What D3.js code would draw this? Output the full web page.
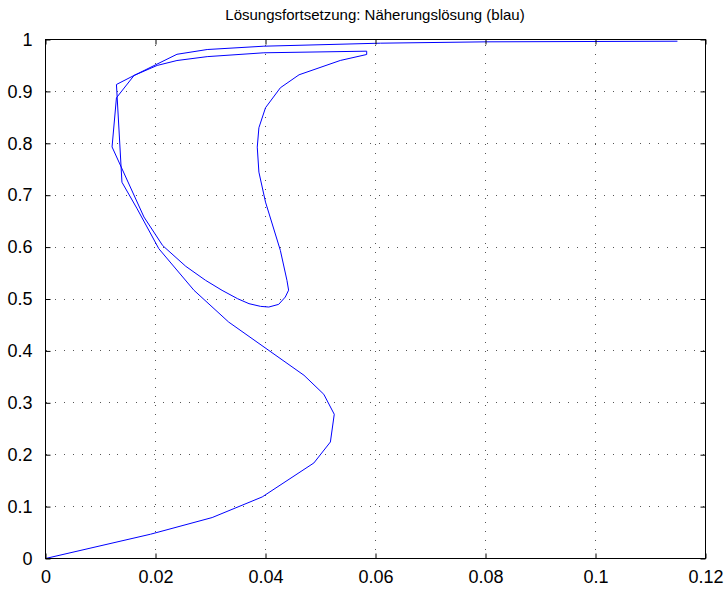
<!DOCTYPE html>
<html>
<head>
<meta charset="utf-8">
<script src="https://cdn.jsdelivr.net/npm/d3@7/dist/d3.min.js"></script>
<style>
  html, body { margin: 0; padding: 0; background: #fff; }
  svg { display: block; }
  text { font-family: "Liberation Sans", Arial, Helvetica, sans-serif; fill: #000; }
</style>
</head>
<body>
<svg id="chart" width="728" height="591"></svg>
<script>
// ---- data ----
const title = "Lösungsfortsetzung: Näherungslösung (blau)";
const xTicks = [0, 0.02, 0.04, 0.06, 0.08, 0.1, 0.12];
const xTickLabels = ["0", "0.02", "0.04", "0.06", "0.08", "0.1", "0.12"];
const yTicks = [0, 0.1, 0.2, 0.3, 0.4, 0.5, 0.6, 0.7, 0.8, 0.9, 1];
const yTickLabels = ["0", "0.1", "0.2", "0.3", "0.4", "0.5", "0.6", "0.7", "0.8", "0.9", "1"];

// continuation path (x = first component, y = second component)
const pathX = [0, 0.0191, 0.0303, 0.0394, 0.0488, 0.0518, 0.0525, 0.0506, 0.0470, 0.0333, 0.0270,
  0.0206, 0.0166, 0.0139, 0.0129, 0.0161, 0.0203, 0.0239, 0.0294, 0.0397, 0.0584,
  0.0584, 0.0536, 0.0461, 0.0427, 0.0400, 0.0388, 0.0385, 0.0388, 0.0400, 0.0427,
  0.0439, 0.0442, 0.0436, 0.0424, 0.0406, 0.0391, 0.0370, 0.0349, 0.0321, 0.0291, 0.0255, 0.0213,
  0.0179, 0.0121, 0.0129, 0.0161, 0.0239, 0.0294, 0.0397, 0.0609, 0.0801, 0.1149];
const pathY = [0, 0.0468, 0.0789, 0.1186, 0.1841, 0.2245, 0.2779, 0.3164, 0.3530, 0.4556, 0.5167,
  0.597, 0.675, 0.725, 0.9133, 0.9307, 0.950, 0.9595, 0.967, 0.9744, 0.9775,
  0.9711, 0.9596, 0.932, 0.907, 0.8685, 0.830, 0.7926, 0.7445, 0.6867, 0.5937,
  0.536, 0.517, 0.5038, 0.4897, 0.4845, 0.4858, 0.491, 0.5007, 0.5167, 0.536, 0.563, 0.603,
  0.658, 0.793, 0.8877, 0.9307, 0.9715, 0.9807, 0.9871, 0.9929, 0.9955, 0.9967];

// ---- layout ----
const L = 45, R = 705, T = 39, B = 558;
const svg = d3.select("#chart");
const x = d3.scaleLinear().domain([0, 0.12]).range([L + 0.5, R + 0.5]);
const y = d3.scaleLinear().domain([0, 1]).range([B + 0.5, T + 0.5]);

// grid (dotted)
const grid = svg.append("g").attr("stroke", "#555").attr("stroke-width", 1)
  .attr("stroke-dasharray", "1,8").attr("shape-rendering", "crispEdges");
grid.selectAll("line.gx").data(xTicks).join("line").attr("class", "gx")
  .attr("x1", d => x(d)).attr("x2", d => x(d)).attr("y1", B + 0.5).attr("y2", T + 0.5);
grid.selectAll("line.gy").data(yTicks).join("line").attr("class", "gy")
  .attr("y1", d => y(d)).attr("y2", d => y(d)).attr("x1", L + 0.5).attr("x2", R + 0.5);

// curve
const pts = pathX.map((v, i) => [v, pathY[i]]);
svg.append("path").datum(pts)
  .attr("fill", "none").attr("stroke", "#0000ff").attr("stroke-width", 1)
  .attr("stroke-linejoin", "miter")
  .attr("d", d3.line().x(d => x(d[0])).y(d => y(d[1])));

// axes with inward ticks on all four sides
const tl = 5;
const xAxisB = d3.axisBottom(x).tickValues(xTicks).tickFormat((d, i) => xTickLabels[i])
  .tickSizeInner(-tl).tickSizeOuter(0).tickPadding(12);
const xAxisT = d3.axisTop(x).tickValues(xTicks).tickFormat("").tickSizeInner(-tl).tickSizeOuter(0);
const yAxisL = d3.axisLeft(y).tickValues(yTicks).tickFormat((d, i) => yTickLabels[i])
  .tickSizeInner(-tl).tickSizeOuter(0).tickPadding(13);
const yAxisR = d3.axisRight(y).tickValues(yTicks).tickFormat("").tickSizeInner(-tl).tickSizeOuter(0);

function style(g) {
  g.select(".domain").remove();
  g.selectAll(".tick line").attr("stroke", "#000");
  g.selectAll(".tick text").attr("font-size", 18).attr("font-family", '"Liberation Sans", Arial, sans-serif');
}
svg.append("g").attr("transform", `translate(0,${B + 0.5})`).call(xAxisB).call(style);
svg.append("g").attr("transform", `translate(0,${T + 0.5})`).call(xAxisT).call(style);
svg.append("g").attr("transform", `translate(${L + 0.5},0)`).call(yAxisL).call(style);
svg.append("g").attr("transform", `translate(${R + 0.5},0)`).call(yAxisR).call(style);

// box
svg.append("rect").attr("x", L + 0.5).attr("y", T + 0.5).attr("width", R - L).attr("height", B - T)
  .attr("fill", "none").attr("stroke", "#000").attr("stroke-width", 1);

// title
svg.append("text").attr("x", (L + R) / 2).attr("y", 20).attr("text-anchor", "middle")
  .attr("font-size", 15).text(title);
</script>
</body>
</html>
